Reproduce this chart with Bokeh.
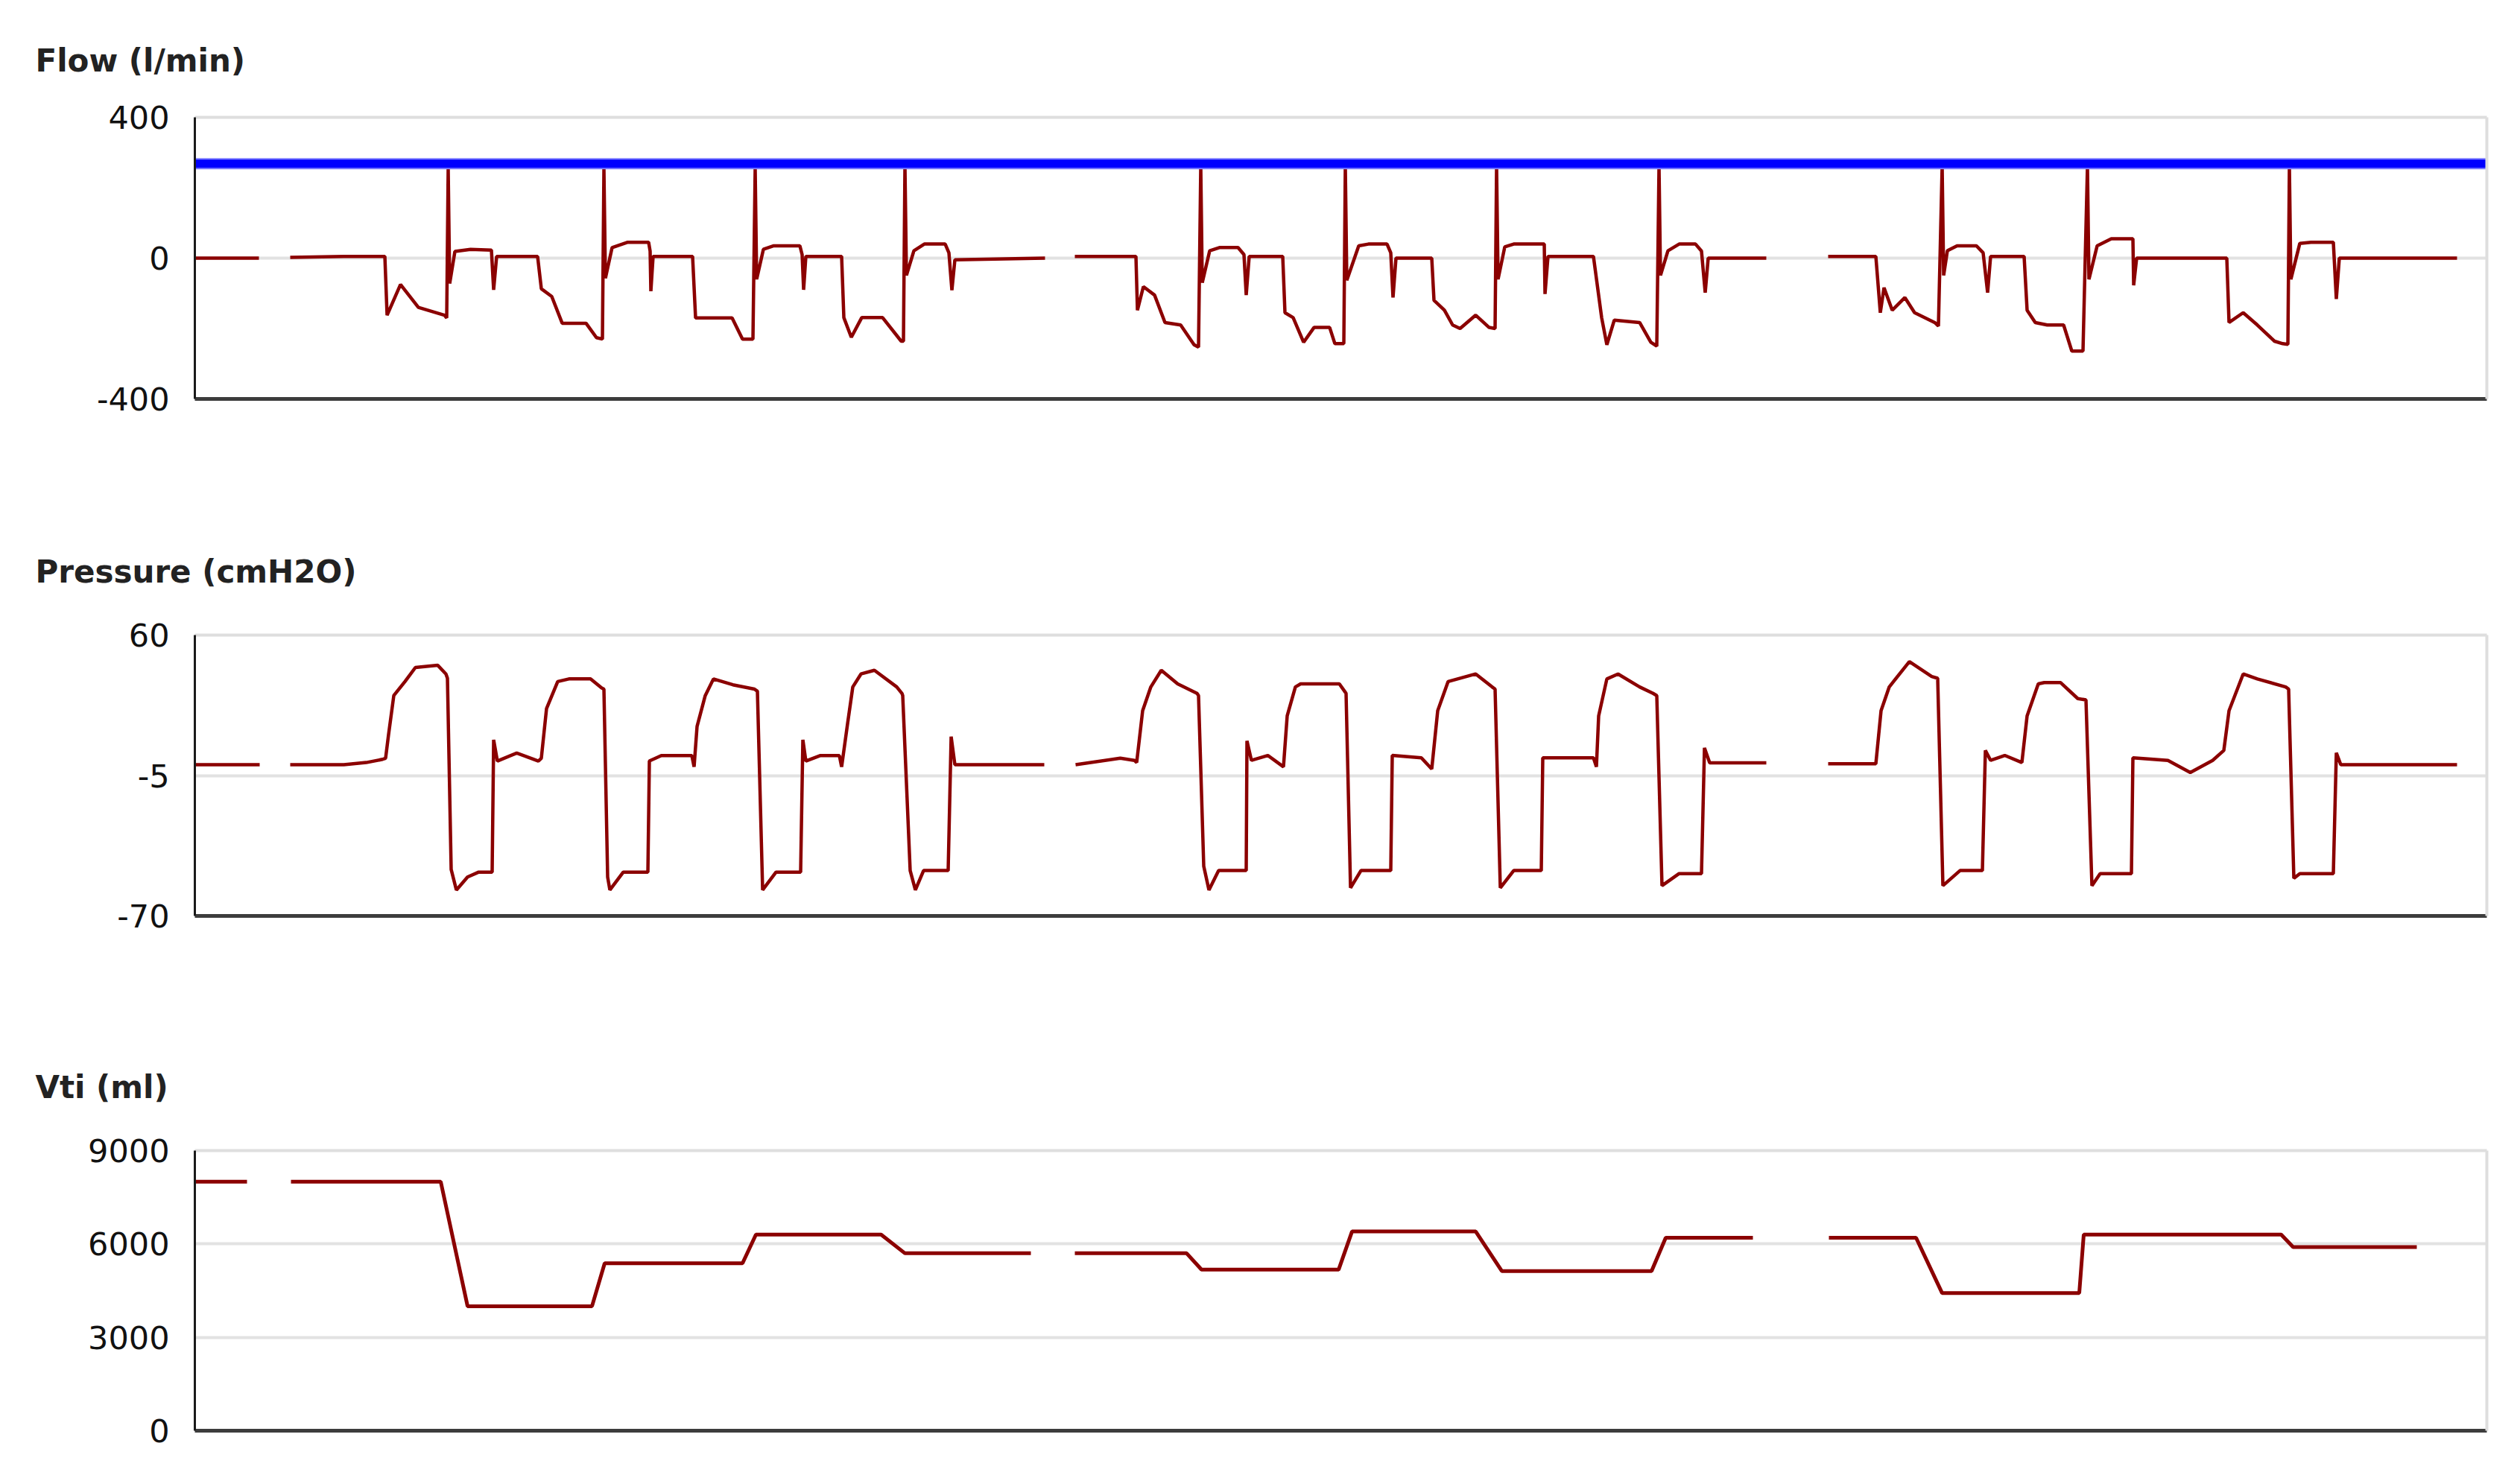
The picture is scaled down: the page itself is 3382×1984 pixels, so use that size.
import numpy as np
from bokeh.plotting import figure
from bokeh.layouts import column
from bokeh.models import Range1d, FixedTicker, LinearAxis
from bokeh.embed import file_html
from bokeh.resources import INLINE

# ---------------- data (time in samples, gaps marked with None) ----------------
time_range = [0, 3076]

flow_title = "Flow (l/min)"
flow_ticks = [-400, 0, 400]
flow_limit = 268
flow_t = [0, 86, None,
          128, 200, 255, 258, 276, 300, 335, 338, 340, 342, 349, 370, 398, 401, 405, 460,
          465, 479, 493, 525, 539, 547, 549, 551, 560, 581, 609, 611, 612, 615, 668,
          672, 721, 728, 735, 749, 752, 754, 763, 777, 812, 815, 817, 820, 868,
          871, 881, 895, 923, 948, 951, 953, 955, 965, 979, 1007, 1012, 1016, 1020, 1141, None,
          1181, 1263, 1265, 1273, 1288, 1302, 1323, 1341, 1347, 1350, 1352, 1362, 1375, 1400, 1408, 1411, 1415, 1460,
          1463, 1474, 1488, 1502, 1523, 1530, 1542, 1544, 1546, 1562, 1575, 1600, 1605, 1608, 1612, 1660,
          1663, 1677, 1688, 1698, 1719, 1737, 1745, 1747, 1749, 1758, 1770, 1811, 1812, 1816, 1877,
          1888, 1895, 1905, 1939, 1954, 1962, 1965, 1967, 1977, 1992, 2014, 2022, 2027, 2031, 2109, None,
          2192, 2256, 2262, 2267, 2278, 2295, 2308, 2335, 2340, 2345, 2347, 2352, 2365, 2391, 2400, 2406, 2410, 2455,
          2459, 2470, 2486, 2508, 2519, 2534, 2540, 2542, 2553, 2572, 2601, 2602, 2606, 2727,
          2730, 2749, 2768, 2791, 2802, 2809, 2811, 2813, 2825, 2840, 2870, 2874, 2878, 3036]
flow_v = [0, 0, None,
          2, 5, 5, -162, -75, -140, -162, -170, 255, -72, 19, 25, 23, -90, 5, 5,
          -87, -109, -185, -185, -226, -230, 255, -57, 30, 45, 45, 20, -94, 5, 5,
          -170, -170, -200, -230, -230, 255, -60, 25, 35, 35, 10, -90, 5, 5,
          -169, -225, -169, -169, -236, -236, 264, -49, 21, 40, 40, 15, -91, -5, 0, None,
          5, 5, -148, -81, -105, -183, -190, -246, -253, 262, -70, 21, 30, 30, 10, -105, 5, 5,
          -155, -169, -239, -197, -197, -243, -243, 262, -63, 35, 40, 40, 15, -112, 0, 0,
          -120, -148, -190, -200, -162, -197, -200, 262, -60, 32, 40, 40, -102, 5, 5,
          -169, -246, -176, -183, -239, -250, 262, -49, 21, 40, 40, 20, -98, 0, 0, None,
          5, 5, -155, -84, -148, -112, -155, -183, -193, 262, -49, 21, 35, 35, 15, -98, 5, 5,
          -148, -183, -190, -190, -264, -264, 262, -60, 35, 55, 55, -77, 0, 0,
          -183, -155, -190, -236, -243, -245, 262, -60, 42, 45, 45, -116, 0, 0]

pres_title = "Pressure (cmH2O)"
pres_ticks = [-70, -5, 60]
pres_t = [0, 87, None,
          128, 200, 230, 252, 256, 260, 267, 282, 296, 326, 337, 339, 344, 351, 366, 381, 399,
          401, 406, 432, 461, 465, 472, 487, 502, 531, 546, 549, 554, 557, 575, 608,
          610, 626, 667, 670, 674, 685, 696, 722, 751, 755, 762, 780, 813,
          816, 820, 839, 865, 868, 876, 883, 894, 912, 942, 949, 950, 960, 967, 978, 1011,
          1015, 1020, 1140, None,
          1182, 1242, 1261, 1264, 1272, 1283, 1297, 1319, 1345, 1347, 1354, 1361, 1374, 1411,
          1412, 1418, 1440, 1461, 1466, 1477, 1484, 1536, 1543, 1545, 1551, 1565, 1605,
          1607, 1646, 1660, 1668, 1682, 1719, 1741, 1745, 1752, 1770, 1807,
          1809, 1877, 1881, 1884, 1895, 1910, 1939, 1957, 1962, 1969, 1992, 2022,
          2026, 2033, 2109, None,
          2192, 2256, 2263, 2274, 2301, 2331, 2339, 2346, 2369, 2399,
          2403, 2410, 2429, 2452, 2459, 2474, 2482, 2504, 2527, 2538, 2546, 2557, 2599,
          2601, 2648, 2678, 2708, 2723, 2730, 2749, 2768, 2806, 2810, 2817, 2825, 2870,
          2874, 2880, 3036]
pres_v = [0, 0, None,
          0, 0, 1, 2.5, 3, 14, 32, 38.5, 45, 46, 42, 40, -48.5, -58, -52, -49.7, -49.7,
          11.5, 1.7, 5.4, 1.7, 3, 26, 38.5, 39.7, 39.7, 35.5, 35, -52, -58, -49.7, -49.7,
          1.7, 4.2, 4.2, -1, 17.7, 32, 39.7, 37, 35, 34, -58, -49.7, -49.7,
          11.5, 1.7, 4.2, 4.2, -1, 19, 36, 42, 43.7, 36, 33, 32, -49, -58, -49, -49,
          13, 0, 0, None,
          0, 3, 2, 1, 25, 36, 43.7, 37.4, 33, 32, -47, -58, -49, -49,
          11, 2, 4.3, -1, 22.6, 36, 37.4, 37.4, 34, 33, -57, -49, -49,
          4.3, 3.2, -2, 25, 38.5, 42, 36, 35, -57, -49, -49,
          3.2, 3.2, -1, 22.6, 39.7, 42, 36, 33, 32, -56, -50.4, -50.4,
          7.8, 0.9, 0.9, None,
          0.4, 0.4, 25, 36, 47.7, 40.8, 40, -56, -49, -49,
          6.6, 2, 4.3, 1, 22.6, 37.4, 38, 38, 30.6, 30, -56, -50.4, -50.4,
          3.2, 2, -3.6, 2, 6.6, 25, 42, 39.7, 36, 35, -52.6, -50.4, -50.4,
          5.5, 0, 0]

vti_title = "Vti (ml)"
vti_ticks = [0, 3000, 6000, 9000]
vti_t = [0, 70, None,
         129, 330, 366, 533, 550, 735, 753, 921, 953, 1122, None,
         1181, 1331, 1351, 1535, 1553, 1719, 1754, 1955, 1974, 2091, None,
         2193, 2310, 2345, 2529, 2535, 2800, 2816, 2982]
vti_v = [8000, 8000, None,
         8000, 8000, 4000, 4000, 5380, 5380, 6300, 6300, 5700, 5700, None,
         5700, 5700, 5175, 5175, 6400, 6400, 5130, 5130, 6200, 6200, None,
         6200, 6200, 4420, 4420, 6300, 6300, 5900, 5900]

# ---------------- styling ----------------
TRACE = "#8b0000"
FONT = "DejaVu Sans"
W = 3368
BORDER_L = 261
BORDER_R = 31


def to_arr(lst):
    return np.array([np.nan if v is None else v for v in lst], dtype=float)


def edge_axis():
    ax = LinearAxis(ticker=FixedTicker(ticks=[]))
    ax.major_label_text_font_size = "0px"
    ax.major_tick_line_color = None
    ax.minor_tick_line_color = None
    ax.major_tick_out = 0
    ax.major_label_standoff = 0
    ax.axis_line_color = "#dedede"
    ax.axis_line_width = 4
    return ax


def panel(title, t, v, ticks, height, border_top, frame_h, standoff, lw=4.5):
    yr = (min(ticks), max(ticks))
    p = figure(width=W, height=height,
               x_range=Range1d(*time_range), y_range=Range1d(*yr),
               output_backend="svg", toolbar_location=None,
               min_border_left=BORDER_L, min_border_right=BORDER_R,
               min_border_top=border_top,
               min_border_bottom=height - border_top - frame_h,
               title=title)
    p.title.align = "left"
    p.title.vertical_align = "top"
    p.title.offset = -214
    p.title.standoff = standoff
    p.title.text_font = FONT
    p.title.text_font_style = "bold"
    p.title.text_font_size = "42px"
    p.title.text_color = "#222222"
    p.outline_line_color = None
    p.background_fill_color = "white"
    p.border_fill_color = "white"
    p.xgrid.grid_line_color = None
    p.ygrid.grid_line_color = "#e2e2e2"
    p.ygrid.grid_line_width = 4
    p.yaxis.ticker = FixedTicker(ticks=ticks)
    p.yaxis.major_label_overrides = {tk: str(tk) for tk in ticks}
    p.yaxis.major_tick_line_color = None
    p.yaxis.minor_tick_line_color = None
    p.yaxis.major_tick_out = 0
    p.yaxis.major_label_standoff = 34
    p.yaxis.major_label_text_font = FONT
    p.yaxis.major_label_text_font_size = "43px"
    p.yaxis.major_label_text_color = "#111111"
    p.yaxis.axis_line_color = "#1a1a1a"
    p.yaxis.axis_line_width = 3
    p.xaxis.ticker = FixedTicker(ticks=[])
    p.xaxis.major_label_text_font_size = "0px"
    p.xaxis.major_tick_line_color = None
    p.xaxis.minor_tick_line_color = None
    p.xaxis.axis_line_color = "#3c3c3c"
    p.xaxis.axis_line_width = 5
    p.add_layout(edge_axis(), "right")
    p.add_layout(edge_axis(), "above")
    p.line(to_arr(t), to_arr(v), line_color=TRACE, line_width=lw)
    return p


# figure tops at 0, 678, 1370; frames at 157-535, 852-1229, 1544-1920
p1 = panel(flow_title, flow_t, flow_v, flow_ticks, 678, 157, 378, standoff=100)
p1.line(time_range, [flow_limit, flow_limit], line_color="#7c7cff", line_width=15)
p1.line(time_range, [flow_limit, flow_limit], line_color="#0000ff", line_width=11)
p2 = panel(pres_title, pres_t, pres_v, pres_ticks, 692, 174, 377, standoff=118)
p3 = panel(vti_title, vti_t, vti_v, vti_ticks, 608, 174, 376, standoff=118, lw=5)

layout = column(p1, p2, p3)
open("out.html", "w").write(file_html(layout, INLINE))
